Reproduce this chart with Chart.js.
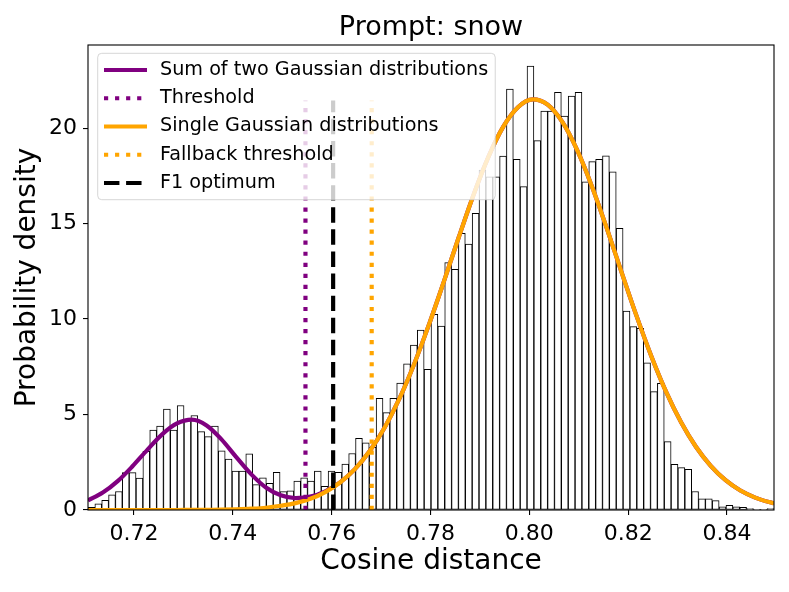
<!DOCTYPE html>
<html><head><meta charset="utf-8">
<script src="https://cdn.jsdelivr.net/npm/chart.js@4.4.1/dist/chart.umd.min.js"></script>
<style>html,body{margin:0;padding:0;background:#fff}</style>
</head><body>
<canvas id="c" width="789" height="592"></canvas>
<script>
// ---------- data ----------
const histRange = [0.7107, 0.8495];          // histogram bin range (100 bins)
const histDensity = [
  0.14, 0.32, 0.50, 0.79, 0.97, 1.96, 1.96, 1.67, 3.07, 4.19,
  4.40, 5.29, 4.19, 5.47, 4.71, 4.95, 4.10, 3.84, 4.40, 3.10,
  2.67, 2.04, 2.04, 2.94, 1.33, 1.68, 1.40, 1.97, 0.96, 1.00,
  1.52, 1.68, 1.52, 2.04, 1.24, 2.04, 1.97, 2.40, 2.96, 3.75,
  3.52, 3.28, 5.85, 5.10, 5.85, 6.65, 7.65, 8.64, 9.42, 7.36,
  10.24, 9.63, 12.95, 12.60, 14.49, 13.93, 15.53, 17.80, 17.45, 17.45,
  18.53, 22.04, 18.36, 16.93, 23.25, 19.34, 20.89, 20.89, 21.87, 20.63,
  21.68, 21.87, 17.19, 18.24, 18.36, 18.55, 17.71, 14.75, 10.42, 9.60,
  9.51, 7.71, 6.20, 6.63, 3.58, 2.39, 2.22, 2.13, 0.97, 0.59,
  0.59, 0.49, 0.17, 0.24, 0.16, 0.14, 0.07, 0.03, 0.03, 0.07
];
const curveX = [
  0.7107, 0.7137, 0.7167, 0.7197, 0.7227, 0.7257, 0.7287, 0.7317, 0.7347, 0.7377,
  0.7407, 0.7437, 0.7467, 0.7497, 0.7527, 0.7557, 0.7587, 0.7617, 0.7647, 0.7677,
  0.7707, 0.7737, 0.7767, 0.7797, 0.7827, 0.7857, 0.7887, 0.7917, 0.7947, 0.7977,
  0.8007, 0.8037, 0.8067, 0.8097, 0.8127, 0.8157, 0.8187, 0.8217, 0.8247, 0.8277,
  0.8307, 0.8337, 0.8367, 0.8397, 0.8427, 0.8457, 0.8487, 0.8495
];
const sumTwoGaussian = [
  0.50, 0.91, 1.51, 2.29, 3.15, 3.96, 4.53, 4.73, 4.43, 3.70,
  2.77, 1.88, 1.18, 0.77, 0.62, 0.70, 0.98, 1.45, 2.14, 3.09,
  4.31, 5.83, 7.65, 9.72, 11.96, 14.27, 16.50, 18.48, 20.06, 21.09,
  21.50, 21.23, 20.31, 18.83, 16.92, 14.73, 12.42, 10.15, 8.04, 6.17,
  4.59, 3.31, 2.31, 1.56, 1.02, 0.65, 0.40, 0.35
];
const singleGaussian = [
  0.00, 0.00, 0.00, 0.00, 0.00, 0.00, 0.00, 0.01, 0.01, 0.02,
  0.04, 0.07, 0.12, 0.22, 0.36, 0.59, 0.94, 1.44, 2.14, 3.09,
  4.31, 5.83, 7.65, 9.72, 11.96, 14.27, 16.50, 18.48, 20.06, 21.09,
  21.50, 21.23, 20.31, 18.83, 16.92, 14.73, 12.42, 10.15, 8.04, 6.17,
  4.59, 3.31, 2.31, 1.56, 1.02, 0.65, 0.40, 0.35
];
const thresholdX = 0.7547;
const fallbackThresholdX = 0.7681;
const f1OptimumX = 0.7603;
const vlineRange = [0, 21.45];
const xLimits = [0.7107, 0.8495];
const yLimits = [0, 24.35];
const xTicks = [0.72, 0.74, 0.76, 0.78, 0.80, 0.82, 0.84];
const yTicks = [0, 5, 10, 15, 20];
const legendOrder = ['Sum of two Gaussian distributions', 'Threshold',
  'Single Gaussian distributions', 'Fallback threshold', 'F1 optimum'];

// ---------- styling ----------
const FONT = "'DejaVu Sans', 'Liberation Sans', sans-serif";
const LW = 4.17;
const DOTTED = [LW * 1.0, LW * 1.65];
const DASHED = [LW * 3.7, LW * 1.6];

const nBins = histDensity.length;
const binW = (histRange[1] - histRange[0]) / nBins;
const histPoints = histDensity.map((d, i) => ({ x: histRange[0] + (i + 0.5) * binW, y: d }));
const toPts = (xs, ys) => xs.map((x, i) => ({ x, y: ys[i] }));
const vline = (x) => [{ x, y: vlineRange[0] }, { x, y: vlineRange[1] }];

const frameLegend = {
  id: 'frameLegend',
  afterDatasetsDraw(chart) {
    const { ctx, chartArea: a } = chart;
    ctx.save();
    ctx.setLineDash([]);
    ctx.strokeStyle = 'black';
    ctx.lineWidth = 1.1;
    ctx.strokeRect(a.left, a.top, a.right - a.left, a.bottom - a.top);

    const fs = 19.2;
    ctx.font = fs + 'px ' + FONT;
    const entries = legendOrder.map(l => chart.data.datasets.find(d => d.label === l));
    const bx = a.left + 9.7, by = a.top + 8.3;
    const textX = bx + 62.3;
    let maxW = 0;
    entries.forEach(e => { maxW = Math.max(maxW, ctx.measureText(e.label).width); });
    const bw = textX + maxW + 7 - bx;
    const rowH = 28.25, firstY = 16.7;
    const bh = firstY * 2 + rowH * (entries.length - 1);
    const r = 4;
    ctx.beginPath();
    ctx.moveTo(bx + r, by);
    ctx.lineTo(bx + bw - r, by); ctx.quadraticCurveTo(bx + bw, by, bx + bw, by + r);
    ctx.lineTo(bx + bw, by + bh - r); ctx.quadraticCurveTo(bx + bw, by + bh, bx + bw - r, by + bh);
    ctx.lineTo(bx + r, by + bh); ctx.quadraticCurveTo(bx, by + bh, bx, by + bh - r);
    ctx.lineTo(bx, by + r); ctx.quadraticCurveTo(bx, by, bx + r, by);
    ctx.closePath();
    ctx.fillStyle = 'rgba(255,255,255,0.8)';
    ctx.fill();
    ctx.strokeStyle = 'rgba(204,204,204,0.8)';
    ctx.lineWidth = 1;
    ctx.stroke();

    entries.forEach((e, i) => {
      const y = by + firstY + i * rowH;
      ctx.beginPath();
      ctx.setLineDash(e.borderDash || []);
      ctx.lineCap = 'butt';
      ctx.strokeStyle = e.borderColor;
      ctx.lineWidth = e.borderWidth;
      ctx.moveTo(bx + 6.3, y);
      ctx.lineTo(bx + 49.3, y);
      ctx.stroke();
      ctx.setLineDash([]);
      ctx.fillStyle = 'black';
      ctx.textBaseline = 'middle';
      ctx.textAlign = 'left';
      ctx.fillText(e.label, textX, y);
    });
    ctx.restore();
  }
};

const tickFont = { family: FONT, size: 22 };
const labelFont = { family: FONT, size: 28 };

new Chart(document.getElementById('c'), {
  type: 'bar',
  data: {
    datasets: [
      { type: 'bar', label: 'hist', data: histPoints, backgroundColor: 'white',
        borderColor: 'black', borderWidth: 1, borderSkipped: false,
        barPercentage: 1, categoryPercentage: 1, order: 10 },
      { type: 'line', label: 'Sum of two Gaussian distributions', data: toPts(curveX, sumTwoGaussian),
        borderColor: 'purple', borderWidth: LW, pointRadius: 0, cubicInterpolationMode: 'monotone',
        fill: false, clip: 0, order: 6 },
      { type: 'line', label: 'Single Gaussian distributions', data: toPts(curveX, singleGaussian),
        borderColor: 'orange', borderWidth: LW, pointRadius: 0, cubicInterpolationMode: 'monotone',
        fill: false, clip: 0, order: 5 },
      { type: 'line', label: 'Threshold', data: vline(thresholdX),
        borderColor: 'purple', borderWidth: LW, borderDash: DOTTED, pointRadius: 0, fill: false, clip: 0, order: 3 },
      { type: 'line', label: 'Fallback threshold', data: vline(fallbackThresholdX),
        borderColor: 'orange', borderWidth: LW, borderDash: DOTTED, pointRadius: 0, fill: false, clip: 0, order: 2 },
      { type: 'line', label: 'F1 optimum', data: vline(f1OptimumX),
        borderColor: 'black', borderWidth: LW, borderDash: DASHED, pointRadius: 0, fill: false, clip: 0, order: 1 }
    ]
  },
  options: {
    responsive: false,
    animation: false,
    devicePixelRatio: 1,
    events: [],
    layout: { padding: { left: 0, right: 15, top: 0, bottom: 0 } },
    plugins: {
      legend: { display: false },
      tooltip: { enabled: false },
      title: { display: true, text: 'Prompt: snow', color: 'black', fullSize: false,
        font: { family: FONT, size: 27, weight: 'normal' }, padding: { top: 12, bottom: 0.6 } }
    },
    scales: {
      x: {
        type: 'linear', min: xLimits[0], max: xLimits[1], offset: false,
        afterBuildTicks: s => { s.ticks = xTicks.map(v => ({ value: v })); },
        afterFit: s => { s.height = 82; },
        ticks: { callback: v => v.toFixed(2), font: tickFont, color: 'black', padding: 6,
          maxRotation: 0, autoSkip: false },
        grid: { display: true, offset: false, drawOnChartArea: false, drawTicks: true, tickLength: 5,
          tickWidth: 1.1, lineWidth: 1.1, tickColor: 'black', color: 'black' },
        border: { display: false },
        title: { display: true, text: 'Cosine distance', font: labelFont, color: 'black',
          padding: { top: 0, bottom: 13.5 } }
      },
      y: {
        type: 'linear', min: yLimits[0], max: yLimits[1],
        afterBuildTicks: s => { s.ticks = yTicks.map(v => ({ value: v })); },
        afterFit: s => { s.width = 88; },
        ticks: { callback: v => String(v), font: tickFont, color: 'black', padding: 6 },
        grid: { display: true, drawOnChartArea: false, drawTicks: true, tickLength: 5,
          tickWidth: 1.1, lineWidth: 1.1, tickColor: 'black', color: 'black' },
        border: { display: false },
        title: { display: true, text: 'Probability density', font: labelFont, color: 'black',
          padding: { top: 11, bottom: 0 } }
      }
    }
  },
  plugins: [frameLegend]
});
</script>
</body></html>
